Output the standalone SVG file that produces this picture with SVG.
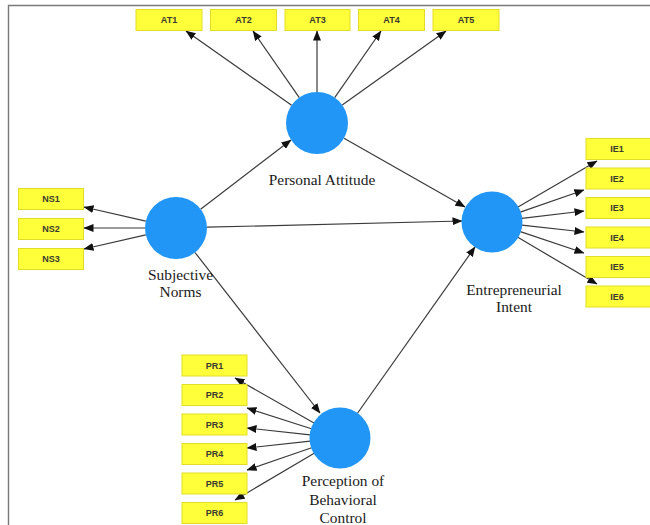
<svg xmlns="http://www.w3.org/2000/svg" width="650" height="525" viewBox="0 0 650 525">
  <style>
    .frame { fill: none; stroke: #7a7a7a; stroke-width: 1.4; }
    .ind rect { fill: #ffff3a; stroke: #e2dc28; stroke-width: 1; }
    .ind text { font-family: "Liberation Sans", Arial, sans-serif; font-size: 9px; font-weight: bold; fill: #3a3a30; text-anchor: middle; }
    .lat circle { fill: #2196f6; }
    .lat text { font-family: "Liberation Serif", "Times New Roman", serif; font-size: 15.4px; fill: #1a1a1a; text-anchor: middle; }
    .conn line { stroke: #3a3a3a; stroke-width: 1.2; marker-end: url(#head); }
  </style>
  <defs>
    <marker id="head" markerUnits="userSpaceOnUse" markerWidth="10" markerHeight="8" refX="9.5" refY="4" orient="auto">
      <path d="M0,0 L10,4 L0,8 z" fill="#111"/>
    </marker>
  </defs>

  <rect x="0" y="0" width="650" height="525" fill="#ffffff"/>
  <!-- page frame -->
  <path class="frame" d="M8.5,525 L8.5,5.5 L650,5.5"/>

  <!-- connectors -->
  <g id="connectors" class="conn">
    <!-- Personal Attitude to its indicators -->
    <line x1="291.6" y1="105.2" x2="186" y2="31"/>
    <line x1="299.3" y1="97.6" x2="253" y2="31"/>
    <line x1="317" y1="92" x2="317" y2="31"/>
    <line x1="334.7" y1="97.6" x2="381" y2="31"/>
    <line x1="342.2" y1="105" x2="446" y2="31"/>
    <!-- Subjective Norms to its indicators -->
    <line x1="145.8" y1="221.1" x2="84" y2="207"/>
    <line x1="145" y1="228" x2="84" y2="228"/>
    <line x1="145.8" y1="234.9" x2="84" y2="249"/>
    <!-- structural paths -->
    <line x1="200.6" y1="209.2" x2="291" y2="140"/>
    <line x1="207" y1="227.2" x2="462" y2="221"/>
    <line x1="195" y1="252.5" x2="320" y2="413"/>
    <line x1="344" y1="138.3" x2="465" y2="207"/>
    <line x1="357.3" y1="413.5" x2="475" y2="247"/>
    <!-- Entrepreneurial Intent to its indicators -->
    <line x1="518" y1="206.9" x2="597" y2="161"/>
    <line x1="520.3" y1="212.1" x2="584" y2="190"/>
    <line x1="521.8" y1="218.4" x2="584" y2="211"/>
    <line x1="521.8" y1="225.2" x2="584" y2="232"/>
    <line x1="520.4" y1="231.6" x2="584" y2="253"/>
    <line x1="517.8" y1="237.3" x2="597" y2="284"/>
    <!-- Perception of Behavioral Control to its indicators -->
    <line x1="314" y1="423.1" x2="235" y2="378"/>
    <line x1="311.4" y1="428.8" x2="247" y2="408"/>
    <line x1="310.2" y1="434.8" x2="247" y2="428"/>
    <line x1="310.2" y1="441.2" x2="247" y2="448"/>
    <line x1="311.6" y1="447.8" x2="247" y2="470"/>
    <line x1="314.2" y1="453.3" x2="235" y2="500"/>
  </g>

  <!-- latent constructs -->
  <g id="personal-attitude" class="lat">
    <circle cx="317" cy="123" r="31"/>
    <text x="322" y="185">Personal Attitude</text>
  </g>
  <g id="subjective-norms" class="lat">
    <circle cx="176" cy="228" r="31"/>
    <text x="180.5" y="280">Subjective</text>
    <text x="180.5" y="297">Norms</text>
  </g>
  <g id="entrepreneurial-intent" class="lat">
    <circle cx="492" cy="222" r="30.5"/>
    <text x="514" y="295">Entrepreneurial</text>
    <text x="514" y="312">Intent</text>
  </g>
  <g id="behavioral-control" class="lat">
    <circle cx="340" cy="438" r="30.5"/>
    <text x="343" y="486">Perception of</text>
    <text x="343" y="505">Behavioral</text>
    <text x="343" y="523">Control</text>
  </g>

  <!-- indicators: attitude -->
  <g id="AT1" class="ind"><rect x="136" y="9.5" width="66" height="21"/><text x="169" y="23.2">AT1</text></g>
  <g id="AT2" class="ind"><rect x="210.5" y="9.5" width="66" height="21"/><text x="243.5" y="23.2">AT2</text></g>
  <g id="AT3" class="ind"><rect x="285" y="9.5" width="65" height="21"/><text x="317.5" y="23.2">AT3</text></g>
  <g id="AT4" class="ind"><rect x="358.5" y="9.5" width="66" height="21"/><text x="391.5" y="23.2">AT4</text></g>
  <g id="AT5" class="ind"><rect x="433" y="9.5" width="66" height="21"/><text x="466" y="23.2">AT5</text></g>

  <!-- indicators: norms -->
  <g id="NS1" class="ind"><rect x="18.5" y="188.5" width="65" height="21"/><text x="51" y="202.2">NS1</text></g>
  <g id="NS2" class="ind"><rect x="18.5" y="218.5" width="65" height="21"/><text x="51" y="232.2">NS2</text></g>
  <g id="NS3" class="ind"><rect x="18.5" y="248.5" width="65" height="21"/><text x="51" y="262.2">NS3</text></g>

  <!-- indicators: intent -->
  <g id="IE1" class="ind"><rect x="586" y="138.5" width="66" height="21"/><text x="617" y="152.2">IE1</text></g>
  <g id="IE2" class="ind"><rect x="586" y="168" width="66" height="21"/><text x="617" y="181.7">IE2</text></g>
  <g id="IE3" class="ind"><rect x="586" y="197.5" width="66" height="21"/><text x="617" y="211.2">IE3</text></g>
  <g id="IE4" class="ind"><rect x="586" y="227" width="66" height="21"/><text x="617" y="240.7">IE4</text></g>
  <g id="IE5" class="ind"><rect x="586" y="256.5" width="66" height="21"/><text x="617" y="270.2">IE5</text></g>
  <g id="IE6" class="ind"><rect x="586" y="286" width="66" height="21"/><text x="617" y="299.7">IE6</text></g>

  <!-- indicators: behavioral control -->
  <g id="PR1" class="ind"><rect x="182" y="355" width="65" height="21"/><text x="214.5" y="368.7">PR1</text></g>
  <g id="PR2" class="ind"><rect x="182" y="384.5" width="65" height="21"/><text x="214.5" y="398.2">PR2</text></g>
  <g id="PR3" class="ind"><rect x="182" y="414" width="65" height="21"/><text x="214.5" y="427.7">PR3</text></g>
  <g id="PR4" class="ind"><rect x="182" y="443.5" width="65" height="21"/><text x="214.5" y="457.2">PR4</text></g>
  <g id="PR5" class="ind"><rect x="182" y="473" width="65" height="21"/><text x="214.5" y="486.7">PR5</text></g>
  <g id="PR6" class="ind"><rect x="182" y="502.5" width="65" height="21"/><text x="214.5" y="516.2">PR6</text></g>
</svg>
